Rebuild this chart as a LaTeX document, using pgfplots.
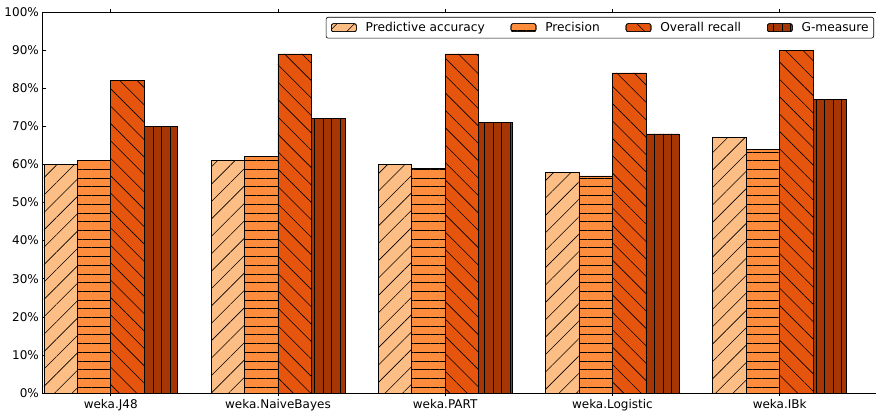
\documentclass[border=0pt]{standalone}
\usepackage{fontspec}
\setmainfont{DejaVu Sans}
\usepackage{pgfplots}
\pgfplotsset{compat=1.18}
\usetikzlibrary{patterns.meta}

\definecolor{accC}{HTML}{FDBE85}
\definecolor{preC}{HTML}{FD8D3C}
\definecolor{recC}{HTML}{E6550D}
\definecolor{gmC}{HTML}{A63603}

\begin{document}
\begin{tikzpicture}
\begin{axis}[
  name=ax,
  scale only axis,
  width=837.5pt, height=381pt,
  xmin=-0.408, xmax=4.6,
  ymin=0, ymax=100,
  ytick={0,10,...,100},
  yticklabel={\pgfmathprintnumber{\tick}\%},
  xtick={0,1,2,3,4},
  xticklabels={weka.J48,weka.NaiveBayes,weka.PART,weka.Logistic,weka.IBk},
  tick align=inside,
  major tick length=3pt,
  tick style={black, line width=0.6pt},
  axis line style={line width=0.8pt},
  /pgf/number format/assume math mode=true,
  ticklabel style={font=\fontsize{12}{14}\selectfont, inner sep=0pt},
  xticklabel style={yshift=-3.5pt},
  yticklabel style={xshift=-3.5pt},
  ybar, bar width=0.2,
  legend columns=4,
  legend style={at={(1,1)}, xshift=-6pt, yshift=-5pt, anchor=north east,
    font=\fontsize{12.2}{14}\selectfont, draw=black, line width=0.6pt,
    rounded corners=2pt, inner xsep=5pt, inner ysep=5pt,
    nodes={inner sep=0pt},
    /tikz/every odd column/.append style={column sep=9pt},
    /tikz/every even column/.append style={column sep=26pt}},
  legend image code/.code={\draw[#1] (0pt,-4pt) rectangle (25pt,4pt);},
]
% Predictive accuracy
\addplot[fill=accC, draw=black, line width=0.6pt, bar shift=-0.3,
  postaction={pattern={Lines[angle=45,distance=12.3pt,line width=0.6pt]}, pattern color=black}]
  coordinates {(0,60) (1,61) (2,60) (3,58) (4,67)};
% Precision
\addplot[fill=preC, draw=black, line width=0.6pt, bar shift=-0.1,
  postaction={pattern={Lines[angle=0,distance=8.7pt,line width=0.6pt]}, pattern color=black}]
  coordinates {(0,61) (1,62) (2,59) (3,57) (4,64)};
% Overall recall
\addplot[fill=recC, draw=black, line width=0.6pt, bar shift=0.1,
  postaction={pattern={Lines[angle=-45,distance=12.3pt,line width=0.6pt]}, pattern color=black}]
  coordinates {(0,82) (1,89) (2,89) (3,84) (4,90)};
% G-measure
\addplot[fill=gmC, draw=black, line width=0.6pt, bar shift=0.3,
  postaction={pattern={Lines[angle=90,distance=8.5pt,line width=0.6pt]}, pattern color=black}]
  coordinates {(0,70) (1,72) (2,71) (3,68) (4,77)};
\legend{Predictive accuracy, Precision, Overall recall, G-measure}
\end{axis}
\pgfresetboundingbox
\path ([shift={(-42.5pt,-20pt)}]ax.south west) rectangle ([shift={(-4pt,12pt)}]ax.north east);
\end{tikzpicture}
\end{document}
